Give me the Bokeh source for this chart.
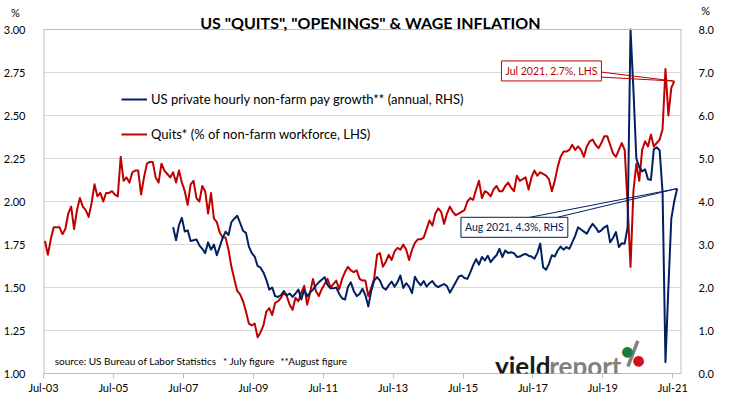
from bokeh.plotting import figure
from bokeh.models import (LinearAxis, Range1d, FixedTicker, NumeralTickFormatter,
                          Label, Legend, LegendItem, Span)
from bokeh.embed import file_html
from bokeh.resources import INLINE

# ---------------- data ----------------
# month index 0 = Jul 2003; each value sits in the middle of its month
quits_start = 0          # Jul 2003
quits = [1.77, 1.69, 1.78, 1.85, 1.85, 1.85, 1.81, 1.84, 1.93, 1.97,
         1.84, 1.95, 2.02, 1.97, 1.95, 1.91, 1.99, 2.10, 2.03, 2.05,
         2.00, 2.05, 2.05, 2.06, 2.04, 2.03, 2.26, 2.12, 2.14, 2.11,
         2.17, 2.18, 2.18, 2.04, 2.14, 2.22, 2.23, 2.23, 2.14, 2.11,
         2.22, 2.18, 2.16, 2.14, 2.17, 2.11, 2.18, 2.11, 2.06, 1.98,
         2.10, 2.12, 2.02, 2.00, 2.09, 2.06, 1.93, 2.05, 1.90, 1.88,
         1.82, 1.79, 1.79, 1.72, 1.62, 1.55, 1.48, 1.46, 1.42, 1.36,
         1.29, 1.28, 1.29, 1.21, 1.24, 1.28, 1.36, 1.38, 1.34, 1.41,
         1.42, 1.44, 1.47, 1.45, 1.40, 1.37, 1.44, 1.42, 1.47, 1.51,
         1.40, 1.47, 1.55, 1.48, 1.45, 1.49, 1.52, 1.55, 1.50, 1.52,
         1.54, 1.49, 1.55, 1.59, 1.62, 1.60, 1.59, 1.60, 1.55, 1.54,
         1.54, 1.45, 1.50, 1.55, 1.69, 1.70, 1.62, 1.65, 1.69, 1.66,
         1.71, 1.73, 1.72, 1.75, 1.72, 1.66, 1.72, 1.76, 1.78, 1.78,
         1.79, 1.84, 1.89, 1.86, 1.93, 1.96, 1.94, 1.87, 1.93, 1.97,
         1.94, 1.92, 1.93, 1.94, 1.95, 2.00, 2.02, 2.01, 2.07, 2.12,
         2.02, 2.06, 2.05, 2.03, 2.07, 2.09, 2.06, 2.06, 2.09, 2.11,
         2.08, 2.06, 2.15, 2.12, 2.13, 2.14, 2.07, 2.14, 2.18, 2.15,
         2.17, 2.16, 2.15, 2.13, 2.06, 2.12, 2.20, 2.26, 2.29, 2.29,
         2.30, 2.33, 2.30, 2.32, 2.30, 2.26, 2.32, 2.35, 2.36, 2.33,
         2.31, 2.34, 2.38, 2.38, 2.33, 2.28, 2.26, 2.30, 2.34, 2.30,
         1.98, 1.62, 2.06, 2.22, 2.12, 2.30, 2.35, 2.32, 2.39, 2.32,
         2.34, 2.36, 2.42, 2.77, 2.50, 2.66, 2.70]

wages_start = 44         # Mar 2007
wages = [3.40, 3.10, 3.45, 3.62, 3.30, 3.33,
         3.08, 3.10, 3.12, 2.98, 2.90, 2.80, 3.05, 2.88, 3.00, 2.75,
         2.95, 3.15, 3.30, 3.22, 3.52, 3.60, 3.67, 3.50, 3.32, 3.27,
         2.95, 2.80, 2.72, 2.50, 2.46, 2.35, 2.18, 1.95, 2.00, 1.80,
         1.78, 1.82, 1.92, 1.82, 1.86, 1.78, 1.86, 1.95, 1.72, 1.95,
         1.80, 1.88, 1.95, 2.05, 2.12, 2.18, 2.24, 2.06, 1.98, 1.98,
         2.00, 1.85, 1.75, 1.72, 2.01, 2.12, 1.92, 1.80, 1.85, 1.97,
         1.82, 1.56, 1.92, 2.16, 2.24, 2.16, 2.00, 1.95, 2.05, 2.14,
         2.02, 2.12, 2.28, 1.99, 2.10, 2.02, 1.87, 2.25, 2.13, 2.05,
         2.15, 2.02, 2.10, 2.15, 2.05, 2.01, 2.05, 2.08, 2.03, 1.88,
         2.00, 2.12, 2.25, 2.28, 2.22, 2.20, 2.35, 2.52, 2.66, 2.53,
         2.71, 2.63, 2.74, 2.59, 2.68, 2.75, 2.90, 2.71, 2.86, 2.80,
         2.82, 2.80, 2.71, 2.72, 2.76, 2.78, 2.74, 2.72, 2.67, 2.80,
         3.02, 2.47, 2.41, 2.55, 2.75, 2.72, 2.86, 2.95, 2.88, 2.94,
         2.90, 3.05, 3.20, 3.40, 3.35, 3.30, 3.25, 3.38, 3.48, 3.40,
         3.29, 3.33, 3.40, 3.44, 3.05, 3.15, 3.29, 2.94, 3.03, 3.02,
         3.40, 8.00, 6.60, 5.00, 4.80, 4.70, 4.75, 4.52, 4.50, 5.22,
         5.26, 5.19, 4.22, 0.26, 2.00, 3.60, 4.00, 4.30]

tick_months = [0, 24, 48, 72, 96, 120, 144, 168, 192, 216]
tick_labels = ["Jul-03", "Jul-05", "Jul-07", "Jul-09", "Jul-11",
               "Jul-13", "Jul-15", "Jul-17", "Jul-19", "Jul-21"]
lhs_ticks = [1.00, 1.25, 1.50, 1.75, 2.00, 2.25, 2.50, 2.75, 3.00]
rhs_ticks = [0, 1, 2, 3, 4, 5, 6, 7, 8]

title_text = 'US "QUITS", "OPENINGS" & WAGE INFLATION'
quits_label = "Quits* (% of non-farm workforce, LHS)"
wages_label = "US private hourly non-farm pay growth** (annual, RHS)"
quits_note = "Jul 2021, 2.7%, LHS"
wages_note = "Aug 2021, 4.3%, RHS"

# ---------------- styling / layout ----------------
FONT = "Lato"
RED = "#C00000"
NAVY = "#002060"
GRID = "#d9d9d9"
AXIS = "#bfbfbf"
TXT = "#000000"

X_MAX = 219                      # months shown
LHS_MIN, LHS_MAX = 1.0, 3.0
RHS_MIN, RHS_MAX = 0.0, 8.0
HEAD_LHS = 0.1686                # headroom above the plot box (title band)
HEAD_RHS = 0.6744
PCT_LHS = 3.1006                 # where the "%" unit marks sit
PCT_RHS = 8.435

qx = [quits_start + i + 0.5 for i in range(len(quits))]
wx = [wages_start + i + 0.5 for i in range(len(wages))]

p = figure(width=731, height=399, x_range=Range1d(0, X_MAX),
           y_range=Range1d(LHS_MIN, LHS_MAX + HEAD_LHS),
           output_backend="svg", toolbar_location=None,
           min_border_left=37, min_border_right=50, min_border_top=0, min_border_bottom=26,
           background_fill_color="white", border_fill_color="white",
           outline_line_color=None)
p.extra_y_ranges = {"rhs": Range1d(RHS_MIN, RHS_MAX + HEAD_RHS)}

# x axis
xa = p.xaxis[0]
xa.ticker = FixedTicker(ticks=tick_months)
xa.major_label_overrides = {m: lab for m, lab in zip(tick_months, tick_labels)}
xa.axis_line_color = AXIS
xa.major_tick_line_color = AXIS
xa.major_tick_out = 5
xa.major_tick_in = 0
xa.minor_tick_line_color = None
xa.major_label_standoff = 2
xa.major_label_text_font = FONT
xa.major_label_text_font_size = "11px"
xa.major_label_text_color = TXT

# left axis (values + the "%" unit mark)
ya = p.yaxis[0]
ya.ticker = FixedTicker(ticks=lhs_ticks + [PCT_LHS])
ya.formatter = NumeralTickFormatter(format="0.00")
ya.major_label_overrides = {PCT_LHS: "%\u00a0\u00a0"}
ya.axis_line_color = None
ya.major_tick_line_color = None
ya.minor_tick_line_color = None
ya.major_label_standoff = 12
ya.major_label_text_font = FONT
ya.major_label_text_font_size = "11px"
ya.major_label_text_color = TXT

# right axis
ra = LinearAxis(y_range_name="rhs", ticker=FixedTicker(ticks=rhs_ticks + [PCT_RHS]),
                formatter=NumeralTickFormatter(format="0.0"))
ra.major_label_overrides = {PCT_RHS: "\u2009\u2009%"}
ra.axis_line_color = None
ra.major_tick_line_color = None
ra.minor_tick_line_color = None
ra.major_label_standoff = 11
ra.major_label_text_font = FONT
ra.major_label_text_font_size = "11px"
ra.major_label_text_color = TXT
p.add_layout(ra, "right")

p.xgrid.visible = False
p.ygrid.ticker = FixedTicker(ticks=lhs_ticks)
p.ygrid.grid_line_color = GRID
p.ygrid.grid_line_width = 1

# plot-box border (top, left, right)
p.add_layout(Span(location=LHS_MAX, dimension="width", line_color=AXIS, line_width=1))
p.segment(x0=[0, X_MAX], y0=[LHS_MIN, LHS_MIN], x1=[0, X_MAX], y1=[LHS_MAX, LHS_MAX],
          line_color=AXIS, line_width=2)

# series
r_q = p.line(qx, quits, line_color=RED, line_width=2, line_join="round")
r_w = p.line(wx, wages, line_color=NAVY, line_width=2, line_join="round", y_range_name="rhs")

# legend
legend = Legend(items=[LegendItem(label=wages_label, renderers=[r_w]),
                       LegendItem(label=quits_label, renderers=[r_q])],
                location=(78, 229), orientation="vertical", spacing=15, padding=0, margin=0,
                glyph_width=26, glyph_height=20, label_height=20, label_standoff=4,
                border_line_color=None, background_fill_alpha=0,
                label_text_font=FONT, label_text_font_size="13px", label_text_color=TXT)
p.add_layout(legend)

# callouts
p.segment(x0=[191.7, 191.7], y0=[2.752, 2.723], x1=[qx[-1]] * 2, y1=[quits[-1]] * 2,
          line_color=RED, line_width=1)
p.segment(x0=[166.0, 175.6], y0=[3.62, 3.62], x1=[wx[-1]] * 2, y1=[wages[-1]] * 2,
          line_color=NAVY, line_width=1, y_range_name="rhs")
p.add_layout(Label(x=157.2, y=2.759, text=quits_note, text_align="left", text_baseline="middle",
                   text_font=FONT, text_font_size="10.5px", text_color=RED,
                   border_line_color=RED, border_line_width=1, background_fill_color="white",
                   padding=4))
p.add_layout(Label(x=143.3, y=3.40, y_range_name="rhs", text=wages_note, text_align="left",
                   text_baseline="middle", text_font=FONT, text_font_size="10.5px",
                   text_color=NAVY, border_line_color=NAVY, border_line_width=1,
                   background_fill_color="white", padding=4))

# title
p.add_layout(Label(x=112.2, y=3.0424, text=title_text,
                   text_align="center", text_baseline="alphabetic", text_font=FONT,
                   text_font_style="bold", text_font_size="16px", text_color=TXT))

# source notes
for x, t in [(3.84, "source: US Bureau of Labor Statistics"), (61.6, "* July figure"),
             (81.3, "**August figure")]:
    p.add_layout(Label(x=x, y=1.0698, text=t, text_align="left", text_baseline="alphabetic",
                       text_font=FONT, text_font_size="10px", text_color=TXT))

# logo
p.add_layout(Label(x=155.0, y=1.0407, text="yield", text_align="left", text_baseline="alphabetic",
                   text_font=FONT, text_font_style="bold", text_font_size="26px",
                   text_color="#1a1a1a"))
p.add_layout(Label(x=173.6, y=1.0407, text="report", text_align="left", text_baseline="alphabetic",
                   text_font=FONT, text_font_style="bold", text_font_size="26px",
                   text_color="#808080"))
p.segment(x0=[200.6], y0=[1.0407], x1=[204.0], y1=[1.19], line_color="#808080",
          line_width=3.5)
p.add_layout(Label(x=200.44, y=1.128, text="\u25cf", text_align="center", text_baseline="middle",
                   text_font="DejaVu Sans", text_font_size="14px", text_color="#1b7a3e"))
p.add_layout(Label(x=204.3, y=1.076, text="\u25cf", text_align="center", text_baseline="middle",
                   text_font="DejaVu Sans", text_font_size="14px", text_color="#d01020"))

open("out.html", "w").write(file_html(p, INLINE))
